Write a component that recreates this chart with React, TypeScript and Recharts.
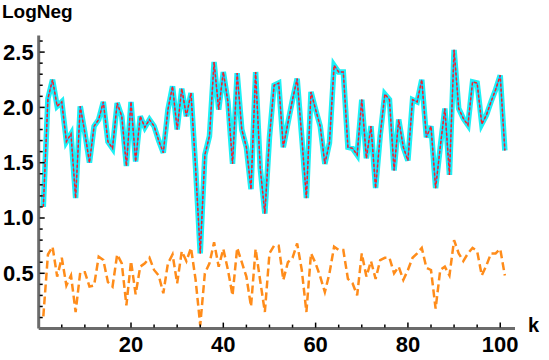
import { LineChart, Line, XAxis, YAxis } from "recharts"

// LogNeg per k, upper curve (drawn three times: cyan / blue / red dashed)
const logNegUpper = [
  1.10, 2.08, 2.25, 2.01, 2.05, 1.69, 1.76, 1.18, 2.01, 1.77,
  1.50, 1.83, 1.89, 2.05, 1.69, 1.63, 2.04, 1.92, 1.47, 2.05,
  1.51, 1.92, 1.82, 1.89, 1.83, 1.70, 1.59, 1.98, 2.19, 1.80,
  2.17, 1.92, 2.13, 1.45, 0.68, 1.57, 1.74, 2.41, 1.98, 2.32,
  2.05, 1.49, 2.31, 1.80, 1.64, 1.26, 2.32, 1.45, 1.04, 1.73,
  2.20, 2.22, 1.64, 1.86, 2.07, 2.26, 1.73, 1.18, 2.14, 1.98,
  1.83, 1.49, 1.68, 2.38, 2.32, 2.32, 1.64, 1.63, 1.57, 2.07,
  1.54, 1.83, 1.27, 1.75, 2.12, 2.07, 1.43, 1.89, 1.64, 1.52,
  2.07, 2.05, 2.25, 1.73, 1.83, 1.27, 1.64, 1.99, 1.39, 2.52,
  1.99, 1.90, 1.84, 2.23, 2.22, 1.85, 1.93, 2.05, 2.16, 2.29,
  1.61,
]

// lower orange dashed curve
const logNegLower = [
  0.11, 0.67, 0.74, 0.47, 0.64, 0.39, 0.48, 0.15, 0.51, 0.51,
  0.38, 0.39, 0.65, 0.62, 0.42, 0.38, 0.67, 0.59, 0.21, 0.61,
  0.31, 0.56, 0.59, 0.64, 0.53, 0.48, 0.32, 0.59, 0.67, 0.41,
  0.70, 0.61, 0.73, 0.44, 0.03, 0.50, 0.59, 0.78, 0.56, 0.72,
  0.53, 0.30, 0.73, 0.60, 0.47, 0.20, 0.72, 0.43, 0.15, 0.68,
  0.75, 0.75, 0.44, 0.60, 0.64, 0.77, 0.53, 0.15, 0.68, 0.59,
  0.47, 0.33, 0.50, 0.74, 0.71, 0.71, 0.45, 0.41, 0.30, 0.68,
  0.47, 0.61, 0.45, 0.62, 0.64, 0.64, 0.50, 0.56, 0.44, 0.53,
  0.64, 0.68, 0.73, 0.55, 0.53, 0.18, 0.53, 0.56, 0.48, 0.80,
  0.68, 0.61, 0.68, 0.73, 0.70, 0.48, 0.57, 0.68, 0.68, 0.72,
  0.48,
]

const xTicks = [5, 10, 15, 20, 25, 30, 35, 40, 45, 50, 55, 60, 65, 70, 75, 80, 85, 90, 95, 100]
const xLabels = [20, 40, 60, 80, 100]

const yTicks = [
  0.1, 0.2, 0.3, 0.4, 0.5, 0.6, 0.7, 0.8, 0.9, 1.0,
  1.1, 1.2, 1.3, 1.4, 1.5, 1.6, 1.7, 1.8, 1.9, 2.0,
  2.1, 2.2, 2.3, 2.4, 2.5, 2.6,
]
const yLabels = [0.5, 1.0, 1.5, 2.0, 2.5]

const data = logNegUpper.map((v, i) => ({ k: i + 1, upper: v, lower: logNegLower[i] }))

const font = "'Liberation Sans', Arial, sans-serif"

function XTick({ x, y, payload }: any) {
  const major = xLabels.includes(payload.value)
  return (
    <g>
      <line x1={x} x2={x} y1={y - 1} y2={y - (major ? 6 : 4)} stroke="#000" strokeWidth={1.5} />
      {major && (
        <text x={x} y={y + 23} textAnchor="middle" fontFamily={font} fontWeight="bold" fontSize={22} fill="#000">
          {payload.value}
        </text>
      )}
    </g>
  )
}

function YTick({ x, y, payload }: any) {
  const major = yLabels.some((l) => Math.abs(l - payload.value) < 1e-6)
  return (
    <g>
      <line x1={x + 1} x2={x + (major ? 6 : 4)} y1={y} y2={y} stroke="#000" strokeWidth={1.5} />
      {major && (
        <text x={x - 5} y={y + 7.5} textAnchor="end" fontFamily={font} fontWeight="bold" fontSize={22} fill="#000">
          {payload.value.toFixed(1)}
        </text>
      )}
    </g>
  )
}

export default function App() {
  return (
    <div style={{ position: "absolute", left: 0, top: 0, width: 549, height: 360, background: "#fff" }}>
      <LineChart width={549} height={360} data={data} margin={{ top: 35.5, right: 34, left: 0, bottom: 0 }}>
        <XAxis
          dataKey="k"
          type="number"
          domain={[0, 103.2]}
          ticks={xTicks}
          tick={<XTick />}
          tickLine={false}
          tickSize={0}
          tickMargin={0}
          height={31.4}
          axisLine={{ stroke: "#6b6b6b", strokeWidth: 3 }}
          interval={0}
        />
        <YAxis
          type="number"
          domain={[0, 2.65]}
          ticks={yTicks}
          tick={<YTick />}
          tickLine={false}
          tickSize={0}
          tickMargin={0}
          width={38.7}
          axisLine={{ stroke: "#6b6b6b", strokeWidth: 3 }}
          interval={0}
        />
        <Line dataKey="lower" stroke="#ff8c1a" strokeWidth={2.5} strokeDasharray="8 4" dot={false} isAnimationActive={false} />
        <Line dataKey="upper" stroke="#1ef0f5" strokeWidth={5.5} dot={false} isAnimationActive={false} />
        <Line dataKey="upper" stroke="#3344ff" strokeWidth={0.6} dot={false} isAnimationActive={false} />
        <Line dataKey="upper" stroke="#ff2020" strokeWidth={1.5} strokeDasharray="3 2" dot={false} isAnimationActive={false} />
      </LineChart>
      <div style={{ position: "absolute", left: 2, top: 2, fontFamily: font, fontWeight: "bold", fontSize: 19, lineHeight: "20px" }}>
        LogNeg
      </div>
      <div style={{ position: "absolute", left: 528, top: 314, fontFamily: font, fontWeight: "bold", fontSize: 20, lineHeight: "22px" }}>
        k
      </div>
    </div>
  )
}
